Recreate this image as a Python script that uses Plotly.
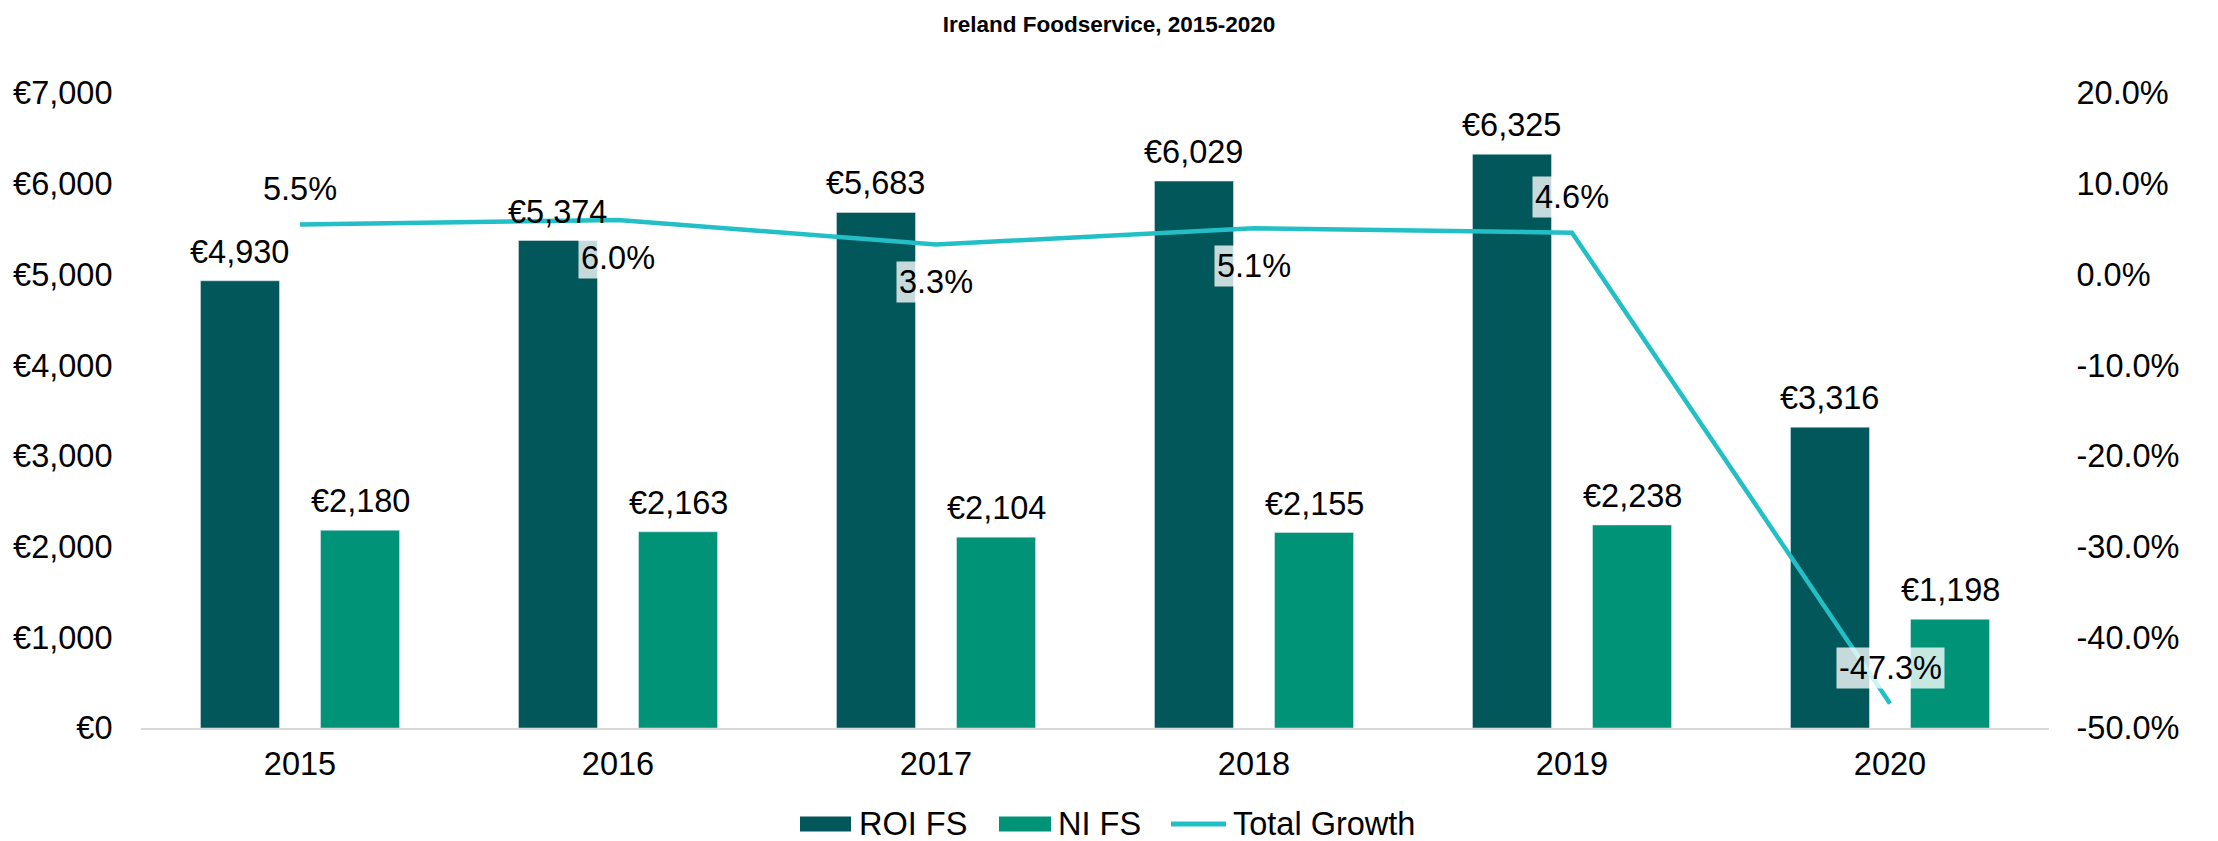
import plotly.graph_objects as go

# ---- data ----
years = ["2015", "2016", "2017", "2018", "2019", "2020"]
roi_fs = [4930, 5374, 5683, 6029, 6325, 3316]
ni_fs = [2180, 2163, 2104, 2155, 2238, 1198]
total_growth = [0.055, 0.060, 0.033, 0.051, 0.046, -0.473]
growth_label_side = ["above", "below", "below", "below", "above", "above"]
series_names = ["ROI FS", "NI FS", "Total Growth"]

left_ticks = [0, 1000, 2000, 3000, 4000, 5000, 6000, 7000]
left_tick_text = ["€0", "€1,000", "€2,000", "€3,000", "€4,000", "€5,000", "€6,000", "€7,000"]
right_ticks = [-0.5, -0.4, -0.3, -0.2, -0.1, 0.0, 0.1, 0.2]
right_tick_text = ["-50.0%", "-40.0%", "-30.0%", "-20.0%", "-10.0%", "0.0%", "10.0%", "20.0%"]

# ---- style / layout ----
FONT = "Arial, Liberation Sans, sans-serif"
FS = 32.5
C_ROI = "#02575A"
C_NI = "#009377"
C_LINE = "#22BFC6"
W, H = 2218, 841
ML, MR, MT, MB = 141, 169, 93, 113
BARGAP, BARGROUPGAP = 0.245, 0.342
PW, PH = W - ML - MR, H - MT - MB

xpos = list(range(len(years)))
bar_off = (1 - BARGAP) / 4  # centre offset of each bar within its group (axis units)

fig = go.Figure()

fig.add_trace(go.Bar(name=series_names[0], x=xpos, y=roi_fs, marker=dict(color=C_ROI),
                     showlegend=False))
fig.add_trace(go.Bar(name=series_names[1], x=xpos, y=ni_fs, marker=dict(color=C_NI),
                     showlegend=False))
fig.add_trace(go.Scatter(name=series_names[2], x=xpos, y=total_growth, yaxis="y2",
                         mode="lines", line=dict(color=C_LINE, width=4.5),
                         cliponaxis=False, showlegend=False))

# bar value labels
for xi, v_roi, v_ni in zip(xpos, roi_fs, ni_fs):
    for xc, v in ((xi - bar_off, v_roi), (xi + bar_off, v_ni)):
        fig.add_annotation(x=xc, y=v, xref="x", yref="y", text=f"€{v:,}",
                           showarrow=False, yanchor="middle", yshift=29,
                           font=dict(size=FS, color="black", family=FONT))

# growth labels
for xi, g, side in zip(xpos, total_growth, growth_label_side):
    fig.add_annotation(
        x=xi, y=g, xref="x", yref="y2", text=f"{g*100:.1f}%", showarrow=False,
        yanchor="middle", yshift=36 if side == "above" else -38,
        bgcolor="rgba(255,255,255,0.78)", borderpad=2,
        font=dict(size=FS, color="black", family=FONT),
    )

# ---- legend (drawn manually to get Excel-style wide swatches) ----
def px_x(p):
    return (p - ML) / PW

def px_y(p):
    return (H - MB - p) / PH

LEG_Y = 824
legend_items = [
    ("rect", C_ROI, 800, 851, 858, series_names[0]),
    ("rect", C_NI, 999, 1051, 1057, series_names[1]),
    ("line", C_LINE, 1171, 1226, 1232, series_names[2]),
]
for kind, col, x0, x1, tx, label in legend_items:
    if kind == "rect":
        fig.add_shape(type="rect", xref="paper", yref="paper",
                      x0=px_x(x0), x1=px_x(x1), y0=px_y(LEG_Y - 7.5), y1=px_y(LEG_Y + 7.5),
                      fillcolor=col, line=dict(width=0), layer="above")
    else:
        fig.add_shape(type="line", xref="paper", yref="paper",
                      x0=px_x(x0), x1=px_x(x1), y0=px_y(LEG_Y), y1=px_y(LEG_Y),
                      line=dict(color=col, width=5), layer="above")
    fig.add_annotation(x=px_x(tx), y=px_y(LEG_Y), xref="paper", yref="paper",
                       text=label, showarrow=False, xanchor="left", yanchor="middle",
                       height=34, borderpad=0,
                       font=dict(size=FS, color="black", family=FONT))

fig.update_layout(
    width=W, height=H,
    margin=dict(l=ML, r=MR, t=MT, b=MB, autoexpand=False),
    paper_bgcolor="white", plot_bgcolor="white",
    font=dict(family=FONT, size=FS, color="black"),
    title=dict(text="<b>Ireland Foodservice, 2015-2020</b>", x=0.5, xanchor="center",
               xref="container", y=1 - 24 / H, yref="container", yanchor="middle",
               font=dict(size=22.5, color="black", family=FONT)),
    barmode="group", bargap=BARGAP, bargroupgap=BARGROUPGAP,
    showlegend=False,
    xaxis=dict(type="linear", range=[-0.5, len(years) - 0.5], tickvals=xpos,
               ticktext=years, showline=True, linecolor="#D9D9D9", linewidth=2,
               showgrid=False, zeroline=False, ticks="outside", ticklen=6,
               tickcolor="rgba(0,0,0,0)", tickfont=dict(size=FS), automargin=False),
    yaxis=dict(range=[0, 7000], tickvals=left_ticks, ticktext=left_tick_text,
               showgrid=False, zeroline=False, showline=False, ticks="outside",
               ticklen=21, tickcolor="rgba(0,0,0,0)", tickfont=dict(size=FS),
               automargin=False),
    yaxis2=dict(range=[-0.5, 0.2], tickvals=right_ticks, ticktext=right_tick_text,
                overlaying="y", side="right", showgrid=False, zeroline=False,
                showline=False, ticks="outside", ticklen=20,
                tickcolor="rgba(0,0,0,0)", tickfont=dict(size=FS), automargin=False),
)

fig.write_html("out.html", config={"displayModeBar": False},
               post_script="document.body.style.margin='0';")
